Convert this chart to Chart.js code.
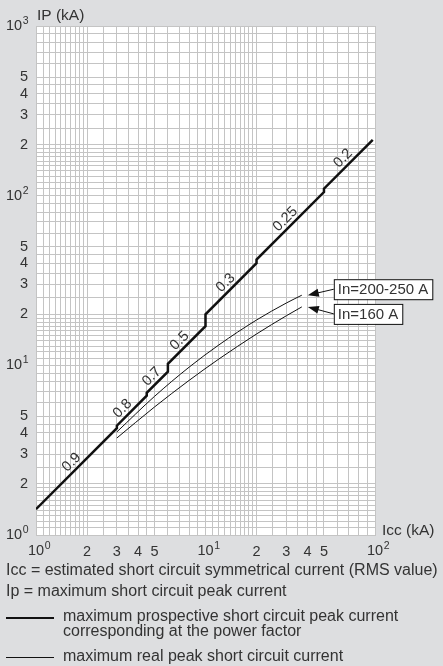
<!DOCTYPE html>
<html>
<head>
<meta charset="utf-8">
<script src="https://cdn.jsdelivr.net/npm/chart.js@4"></script>
<style>
  html, body { margin: 0; padding: 0; background: #dddee0; }
  #wrap { width: 443px; height: 666px; }
</style>
</head>
<body>
<div id="wrap"><canvas id="ipChart" width="443" height="666"></canvas></div>
<script>
// Icc (kA) -> Ip (kA), curve stepped by power factor
const pfIcc = [1, 3, 3, 4.5, 4.5, 6, 6, 10, 10, 20, 20, 50, 50, 97];
const pfIp = [1.42, 4.26, 4.41, 6.62, 6.89, 9.18, 10.2, 17, 20, 40, 42, 105, 110, 213];
const pfLabels = ["0.9", "0.8", "0.7", "0.5", "0.3", "0.25", "0.2"];
const pfLabelIcc = [1.75, 3.5, 5.2, 7.6, 14.2, 32, 70];

// real peak current curves
const realIcc = [3, 5, 8, 12, 20, 30, 37];
const real250Ip = [4.05, 6.56, 9.75, 13.2, 18.5, 23.3, 25.9];
const real160Ip = [3.73, 5.68, 8.15, 10.9, 15.3, 19.6, 22.1];
const realNames = ["In=200-250 A", "In=160 A"];

// grid and tick labels
const gridSteps = [1, 1.1, 1.2, 1.3, 1.4, 1.5, 1.6, 1.7, 1.8, 1.9, 2, 2.5, 3, 3.5, 4, 4.5, 5, 6, 7, 8, 9];
const xLabels = [1, 2, 3, 4, 5, 10, 20, 30, 40, 50, 100];
const yLabels = [1, 2, 3, 4, 5, 10, 20, 30, 40, 50, 100, 200, 300, 400, 500, 1000];

const TXT = "#333";
const FONT = "'Liberation Sans', Arial, sans-serif";

function gridTicks(min, max) {
  const t = [];
  for (let d = min; d < max; d *= 10) {
    gridSteps.forEach((s) => t.push(Math.round(s * d * 1000) / 1000));
  }
  t.push(max);
  return t.map((v) => ({ value: v }));
}

function isDecade(v) {
  const l = Math.log10(v);
  return Math.abs(l - Math.round(l)) < 1e-9;
}

// digits via the scale, powers of ten drawn with a real superscript below
function tickText(list) {
  return (v) => (list.includes(v) && !isDecade(v) ? String(v).charAt(0) : "");
}

function toPts(xs, ys) {
  return xs.map((x, i) => ({ x: x, y: ys[i] }));
}

function drawPow(ctx, exp, x, y, align) {
  ctx.font = "14.5px " + FONT;
  const w1 = ctx.measureText("10").width;
  ctx.font = "10.5px " + FONT;
  const w2 = ctx.measureText(String(exp)).width;
  let left = x;
  if (align === "right") left = x - w1 - w2;
  if (align === "center") left = x - (w1 + w2) / 2;
  ctx.textAlign = "left";
  ctx.textBaseline = "middle";
  ctx.font = "14.5px " + FONT;
  ctx.fillText("10", left, y);
  ctx.font = "10.5px " + FONT;
  ctx.fillText(String(exp), left + w1 + 0.5, y - 5);
}

const decoPlugin = {
  id: "deco",
  beforeDraw(chart) {
    const { ctx, chartArea: a } = chart;
    ctx.save();
    ctx.fillStyle = "#dddee0";
    ctx.fillRect(0, 0, chart.width, chart.height);
    ctx.fillStyle = "#ffffff";
    ctx.fillRect(a.left, a.top, a.right - a.left, a.bottom - a.top);
    ctx.restore();
  },
  afterDraw(chart) {
    const { ctx, chartArea: a } = chart;
    const xs = chart.scales.x;
    const ys = chart.scales.y;
    ctx.save();
    ctx.fillStyle = TXT;

    // decade labels
    xLabels.filter(isDecade).forEach((v) => {
      drawPow(ctx, Math.round(Math.log10(v)), xs.getPixelForValue(v) + 3, a.bottom + 16, "center");
    });
    yLabels.filter(isDecade).forEach((v) => {
      drawPow(ctx, Math.round(Math.log10(v)), a.left - 8, ys.getPixelForValue(v), "right");
    });

    // axis titles
    ctx.font = "15.5px " + FONT;
    ctx.textAlign = "left";
    ctx.textBaseline = "middle";
    ctx.fillText("IP (kA)", a.left + 1, a.top - 10);
    ctx.fillText("Icc (kA)", a.right + 7, a.bottom - 4);

    // power factor labels along the stepped curve
    ctx.font = "14.5px " + FONT;
    pfLabels.forEach((lab, k) => {
      const c = pfLabelIcc[k];
      let i = 0;
      while (i < pfIcc.length - 1 && !(pfIcc[i] < c && c <= pfIcc[i + 1])) i++;
      const t = (Math.log(c) - Math.log(pfIcc[i])) / (Math.log(pfIcc[i + 1]) - Math.log(pfIcc[i]));
      const ip = Math.exp(Math.log(pfIp[i]) + t * (Math.log(pfIp[i + 1]) - Math.log(pfIp[i])));
      const x1 = xs.getPixelForValue(pfIcc[i]), y1 = ys.getPixelForValue(pfIp[i]);
      const x2 = xs.getPixelForValue(pfIcc[i + 1]), y2 = ys.getPixelForValue(pfIp[i + 1]);
      const ang = Math.atan2(y2 - y1, x2 - x1);
      ctx.save();
      ctx.translate(xs.getPixelForValue(c), ys.getPixelForValue(ip));
      ctx.rotate(ang);
      ctx.textAlign = "center";
      ctx.textBaseline = "alphabetic";
      ctx.fillText(lab, 0, -4);
      ctx.restore();
    });

    // boxed labels with arrows at the ends of the real curves
    const ends = [real250Ip, real160Ip];
    const last = realIcc.length - 1;
    ends.forEach((arr, k) => {
      const tx = xs.getPixelForValue(realIcc[last]) + 6;
      const ty = ys.getPixelForValue(arr[last]);
      ctx.font = "15px " + FONT;
      const w = ctx.measureText(realNames[k]).width + 8;
      const bx = tx + 26;
      const by = k === 0 ? ty - 16 : ty - 3;
      ctx.fillStyle = "#ffffff";
      ctx.fillRect(bx, by, w, 20);
      ctx.strokeStyle = "#111";
      ctx.lineWidth = 1;
      ctx.strokeRect(bx + 0.5, by + 0.5, w, 20);
      ctx.fillStyle = TXT;
      ctx.textAlign = "left";
      ctx.textBaseline = "middle";
      ctx.fillText(realNames[k], bx + 4, by + 11);
      // arrow
      const sx = bx, sy = by + 10;
      const ang = Math.atan2(ty - sy, tx - sx);
      ctx.beginPath();
      ctx.moveTo(sx, sy);
      ctx.lineTo(tx + 8 * Math.cos(ang + Math.PI), ty + 8 * Math.sin(ang + Math.PI));
      ctx.stroke();
      ctx.fillStyle = "#111";
      ctx.beginPath();
      ctx.moveTo(tx, ty);
      ctx.lineTo(tx - 11 * Math.cos(ang) + 4 * Math.sin(ang), ty - 11 * Math.sin(ang) - 4 * Math.cos(ang));
      ctx.lineTo(tx - 11 * Math.cos(ang) - 4 * Math.sin(ang), ty - 11 * Math.sin(ang) + 4 * Math.cos(ang));
      ctx.closePath();
      ctx.fill();
      ctx.fillStyle = TXT;
    });

    // notes and legend under the chart
    ctx.font = "16px " + FONT;
    ctx.textAlign = "left";
    ctx.textBaseline = "middle";
    ctx.fillText("Icc = estimated short circuit symmetrical current (RMS value)", 6, 571);
    ctx.fillText("Ip = maximum short circuit peak current", 6, 592);
    ctx.fillText("maximum prospective short circuit peak current", 63, 617);
    ctx.fillText("corresponding at the power factor", 63, 632);
    ctx.fillText("maximum real peak short circuit current", 63, 657);
    ctx.strokeStyle = "#111";
    ctx.lineWidth = 2.2;
    ctx.beginPath();
    ctx.moveTo(6, 618);
    ctx.lineTo(54, 618);
    ctx.stroke();
    ctx.lineWidth = 1;
    ctx.beginPath();
    ctx.moveTo(6, 657.5);
    ctx.lineTo(54, 657.5);
    ctx.stroke();
    ctx.restore();
  },
};

const ctx = document.getElementById("ipChart").getContext("2d");
new Chart(ctx, {
  type: "line",
  data: {
    datasets: [
      {
        label: "power factor",
        data: toPts(pfIcc, pfIp),
        borderColor: "#111",
        borderWidth: 2.5,
        pointRadius: 0,
        tension: 0,
      },
      {
        label: realNames[0],
        data: toPts(realIcc, real250Ip),
        borderColor: "#111",
        borderWidth: 1,
        pointRadius: 0,
        cubicInterpolationMode: "monotone",
      },
      {
        label: realNames[1],
        data: toPts(realIcc, real160Ip),
        borderColor: "#111",
        borderWidth: 1,
        pointRadius: 0,
        cubicInterpolationMode: "monotone",
      },
    ],
  },
  options: {
    responsive: false,
    animation: false,
    layout: { padding: { left: 0, right: 68, top: 26, bottom: 0 } },
    plugins: { legend: { display: false }, tooltip: { enabled: false } },
    scales: {
      x: {
        type: "logarithmic",
        min: 1,
        max: 100,
        afterBuildTicks: (s) => { s.ticks = gridTicks(1, 100); },
        afterFit: (s) => { s.height = 131; },
        grid: { color: "#c4c4c4", lineWidth: 1, drawTicks: false },
        border: { color: "#c4c4c4" },
        ticks: {
          autoSkip: false,
          maxRotation: 0,
          minRotation: 0,
          padding: 8,
          color: TXT,
          font: { family: FONT, size: 14.5 },
          callback: tickText(xLabels),
        },
      },
      y: {
        type: "logarithmic",
        min: 1,
        max: 1000,
        afterBuildTicks: (s) => { s.ticks = gridTicks(1, 1000); },
        afterFit: (s) => { s.width = 36; },
        grid: { color: "#c4c4c4", lineWidth: 1, drawTicks: false },
        border: { color: "#c4c4c4" },
        ticks: {
          autoSkip: false,
          padding: 8,
          color: TXT,
          font: { family: FONT, size: 14.5 },
          callback: tickText(yLabels),
        },
      },
    },
  },
  plugins: [decoPlugin],
});
</script>
</body>
</html>
